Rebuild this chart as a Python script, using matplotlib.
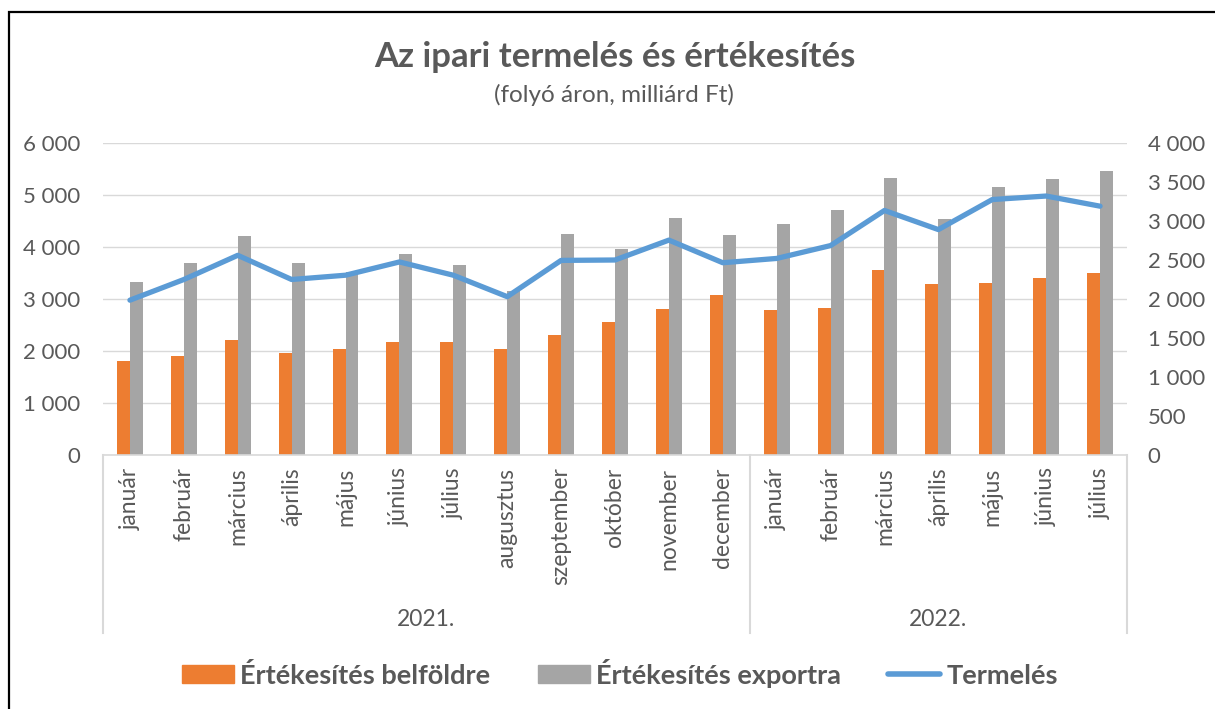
import matplotlib
matplotlib.use("Agg")
import matplotlib.pyplot as plt
from matplotlib.patches import Rectangle
from matplotlib.lines import Line2D
import matplotlib.transforms as mtransforms
import numpy as np

plt.rcParams['font.family'] = ['Lato', 'DejaVu Sans']

months = ["január", "február", "március", "április", "május", "június", "július",
          "augusztus", "szeptember", "október", "november", "december",
          "január", "február", "március", "április", "május", "június", "július"]
years = ["2021.", "2022."]
year_counts = [12, 7]

belfold = [1800, 1900, 2210, 1960, 2035, 2170, 2180, 2045, 2315, 2550, 2815, 3070,
           2785, 2820, 3560, 3285, 3300, 3410, 3500]
export = [3330, 3690, 4210, 3690, 3520, 3860, 3645, 3155, 4245, 3965, 4560, 4230,
          4440, 4710, 5320, 4530, 5150, 5315, 5465]
termeles = [1985, 2250, 2560, 2250, 2305, 2475, 2305, 2030, 2495, 2500, 2755, 2465,
            2520, 2685, 3135, 2890, 3275, 3320, 3190]

left_ticks = [0, 1000, 2000, 3000, 4000, 5000, 6000]
left_labels = ["0", "1 000", "2 000", "3 000", "4 000", "5 000", "6 000"]
right_ticks = [0, 500, 1000, 1500, 2000, 2500, 3000, 3500, 4000]
right_labels = ["0", "500", "1 000", "1 500", "2 000", "2 500", "3 000", "3 500", "4 000"]

title = "Az ipari termelés és értékesítés"
subtitle = "(folyó áron, milliárd Ft)"
series_names = ["Értékesítés belföldre", "Értékesítés exportra", "Termelés"]

C_OR = "#ED7D31"
C_GR = "#A5A5A5"
C_BL = "#5B9BD5"
C_TXT = "#595959"
C_GRID = "#D9D9D9"

W, H = 1215, 709
fig = plt.figure(figsize=(W / 100, H / 100), dpi=100)
L, R, T, B = 103, 1127, 143, 455
ax = fig.add_axes([L / W, 1 - B / H, (R - L) / W, (B - T) / H])

x = np.arange(len(months))
bw = 0.24
ax.bar(x - bw / 2, belfold, bw, color=C_OR, zorder=2)
ax.bar(x + bw / 2, export, bw, color=C_GR, zorder=2)
ax.set_xlim(-0.5, len(months) - 0.5)
ax.set_ylim(0, 6000)
ax.set_yticks(left_ticks)
ax.set_yticklabels(left_labels)
ax.yaxis.grid(True, color=C_GRID, lw=1.0)
ax.set_axisbelow(True)
for s in ["left", "right", "top"]:
    ax.spines[s].set_visible(False)
ax.spines["bottom"].set_color(C_GRID)
ax.spines["bottom"].set_linewidth(1.2)
ax.tick_params(axis="y", length=0, pad=16.5, labelsize=16, labelcolor=C_TXT)
ax.set_xticks(x)
ax.set_xticklabels(months, rotation=90)
ax.tick_params(axis="x", length=0, pad=9, labelsize=16.5, labelcolor=C_TXT)

ax2 = ax.twinx()
ax2.plot(x, termeles, color=C_BL, lw=3.8, solid_capstyle="round", zorder=3)
ax2.set_ylim(0, 4000)
ax2.set_yticks(right_ticks)
ax2.set_yticklabels(right_labels)
for s in ["left", "right", "top", "bottom"]:
    ax2.spines[s].set_visible(False)
ax2.tick_params(axis="y", length=0, pad=15, labelsize=16, labelcolor=C_TXT)

# multi-level category axis
trans = mtransforms.blended_transform_factory(ax.transData, ax.transAxes)
y_bot = -(633 - B) / (B - T)
y_year = -(619 - B) / (B - T)
bounds = [-0.5]
for c in year_counts:
    bounds.append(bounds[-1] + c)
for bx in bounds:
    ax.plot([bx, bx], [0, y_bot], transform=trans, color=C_GRID, lw=1.5, clip_on=False)
for i, yl in enumerate(years):
    cx = (bounds[i] + bounds[i + 1]) / 2
    ax.text(cx, y_year, yl, transform=trans, ha="center", va="center",
            fontsize=16.5, color=C_TXT)

fig.text(615 / W, 1 - 57 / H, title, ha="center", va="center", fontsize=25,
         fontweight="bold", color=C_TXT)
fig.text(614 / W, 1 - 95 / H, subtitle, ha="center", va="center", fontsize=17.5,
         color=C_TXT)

handles = [Rectangle((0, 0), 1, 1, color=C_OR), Rectangle((0, 0), 1, 1, color=C_GR),
           Line2D([0], [0], color=C_BL, lw=4, solid_capstyle="round")]
leg = fig.legend(handles, series_names, loc="center", bbox_to_anchor=(620 / W, 1 - 673 / H),
                 ncol=3, frameon=False, prop={"size": 19.5, "weight": "bold"},
                 handlelength=1.93, handleheight=0.63, handletextpad=0.22, columnspacing=1.74)
for t in leg.get_texts():
    t.set_color(C_TXT)

fig.patches.append(Rectangle((9 / W, -0.05), 1.1, 1 - 12 / H + 0.05, transform=fig.transFigure,
                             fill=False, edgecolor="black", lw=1.6))

fig.savefig("out.png", dpi=100)
